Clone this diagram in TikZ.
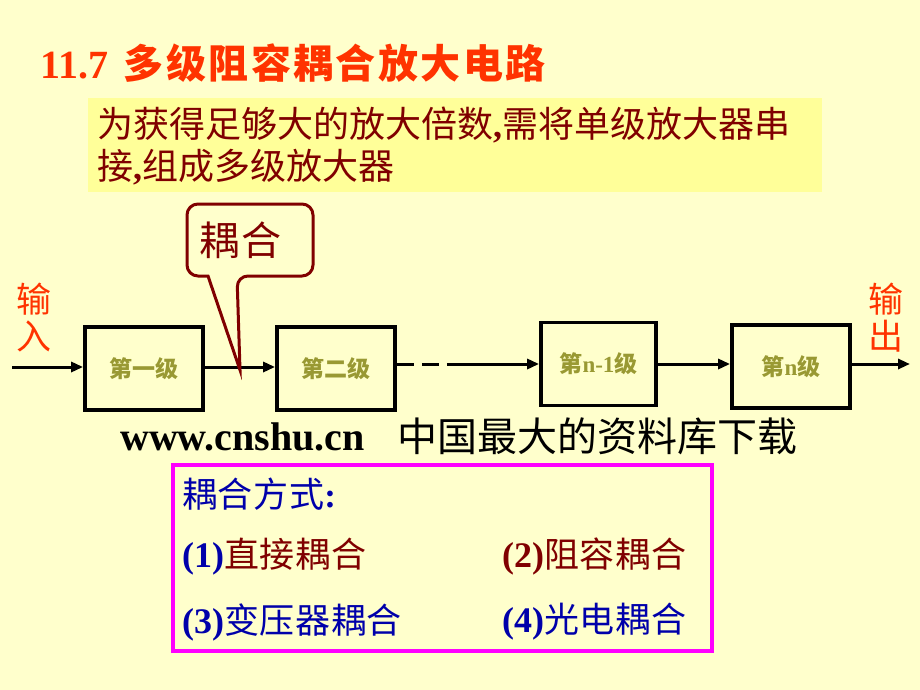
\documentclass[tikz,border=0pt]{standalone}
\usepackage{fontspec}
\setmainfont{Liberation Serif}
\newfontfamily\cjk{Noto Sans CJK SC}
\newfontfamily\cjkT[LetterSpace=6]{Noto Sans CJK SC}
\newfontfamily\cjkB[LetterSpace=5]{Noto Sans CJK SC}
\newfontfamily\cjkM[LetterSpace=2]{Noto Sans CJK SC}
\usetikzlibrary{arrows.meta}
\definecolor{bg}{HTML}{FFFFCC}
\definecolor{hl}{HTML}{FFFF99}
\definecolor{titlered}{HTML}{FF3300}
\definecolor{darkred}{HTML}{800000}
\definecolor{olive}{HTML}{999933}
\definecolor{navy}{HTML}{0000AA}
\definecolor{mag}{HTML}{FF00FF}
\tikzset{
  stagebox/.style={draw=black, line width=3.8pt, fill=bg, minimum width=118pt, minimum height=83pt, inner sep=0pt,
    font=\fontsize{23}{26}\selectfont\bfseries, text=olive},
  flow/.style={line width=3pt, -{Triangle[length=12pt,width=10pt]}},
  plain/.style={line width=3pt},
  lbl/.style={inner sep=0pt, anchor=west}
}
\begin{document}
\begin{tikzpicture}[x=1pt,y=-1pt]
\useasboundingbox (0,0) rectangle (920,690);
\fill[bg] (0,0) rectangle (920,690);
% title
\node[lbl, text=titlered, font=\fontsize{40}{44}\selectfont\bfseries] (title) at (40,63) {11.7\hspace{6pt} {\cjkT 多级阻容耦合放大电路}};
% yellow highlight box
\node[fill=hl, minimum width=734pt, minimum height=94pt, anchor=north west, inner sep=0pt] (hlbox) at (88,98) {};
\node[lbl, text=darkred, font=\fontsize{36}{40}\selectfont\cjk] (l1) at (97,125) {为获得足够大的放大倍数{\rmfamily\bfseries ,}需将单级放大器串};
\node[lbl, text=darkred, font=\fontsize{36}{40}\selectfont\cjk] (l2) at (97,167) {接{\rmfamily\bfseries ,}组成多级放大器};
% stage boxes
\node[stagebox] (s1) at (144,368.5) {{\cjk 第一级}};
\node[stagebox] (s2) at (336,368.5) {{\cjk 第二级}};
\node[stagebox, minimum width=115pt] (s3) at (598.5,364) {{\cjk 第}n-1{\cjk 级}};
\node[stagebox] (s4) at (791,366.5) {{\cjk 第}n{\cjk 级}};
\coordinate (in) at (12,367);
\coordinate (out) at (910,364);
\coordinate (d1) at (463,364);
\coordinate (tip) at (240,370);
\draw[flow] (in) -- (s1.west |- in);
\draw[flow] (s1.east |- 0,367) -- (s2.west |- 0,367);
\draw[plain, dash pattern=on 17pt off 8pt] (s2.east |- 0,364) -- (d1);
\draw[flow] (d1) -- (s3.west);
\draw[flow] (s3.east) -- (s4.west |- s3.east);
\draw[flow] (s4.east |- out) -- (out);
% callout balloon
\draw[darkred, line width=3pt, fill=bg, rounded corners=11pt]
  (208,276) -- (187,276) -- (187,204) -- (313,204) -- (313,276) -- (237,276) [sharp corners] -- (tip) -- (208,276) -- cycle;
\node[text=darkred, font=\fontsize{40}{44}\selectfont\cjkB] (cpl) at (240,240) {耦合};
% in / out labels
\node[text=titlered, font=\fontsize{35}{37}\selectfont\cjk, align=center] (inl) at (34,318) {输\\入};
\node[text=titlered, font=\fontsize{35}{37}\selectfont\cjk, align=center] (outl) at (886,318) {输\\出};
% watermark line
\node[lbl, font=\fontsize{40}{44}\selectfont\bfseries] (www) at (120,437) {www.cnshu.cn};
\node[lbl, font=\fontsize{40}{44}\selectfont\cjk] (zg) at (397,436) {中国最大的资料库下载};
% coupling modes box
\draw[mag, line width=3.5pt, fill=bg] (173,465) rectangle (712,651);
\node[lbl, text=navy, font=\fontsize{35}{38}\selectfont\cjkM] (m0) at (182,494) {耦合方式{\rmfamily\bfseries :}};
\node[lbl, font=\fontsize{36}{38}\selectfont] (m1) at (182,557) {\textcolor{navy}{\bfseries (1)}\textcolor{darkred}{\fontsize{35}{38}\selectfont\cjkM 直接耦合}};
\node[lbl, text=darkred, font=\fontsize{36}{38}\selectfont] (m2) at (502,557) {{\bfseries (2)}{\fontsize{35}{38}\selectfont\cjkM 阻容耦合}};
\node[lbl, text=navy, font=\fontsize{36}{38}\selectfont] (m3) at (182,622) {{\bfseries (3)}{\fontsize{35}{38}\selectfont\cjkM 变压器耦合}};
\node[lbl, text=navy, font=\fontsize{36}{38}\selectfont] (m4) at (502,622) {{\bfseries (4)}{\fontsize{35}{38}\selectfont\cjkM 光电耦合}};
\end{tikzpicture}
\end{document}
